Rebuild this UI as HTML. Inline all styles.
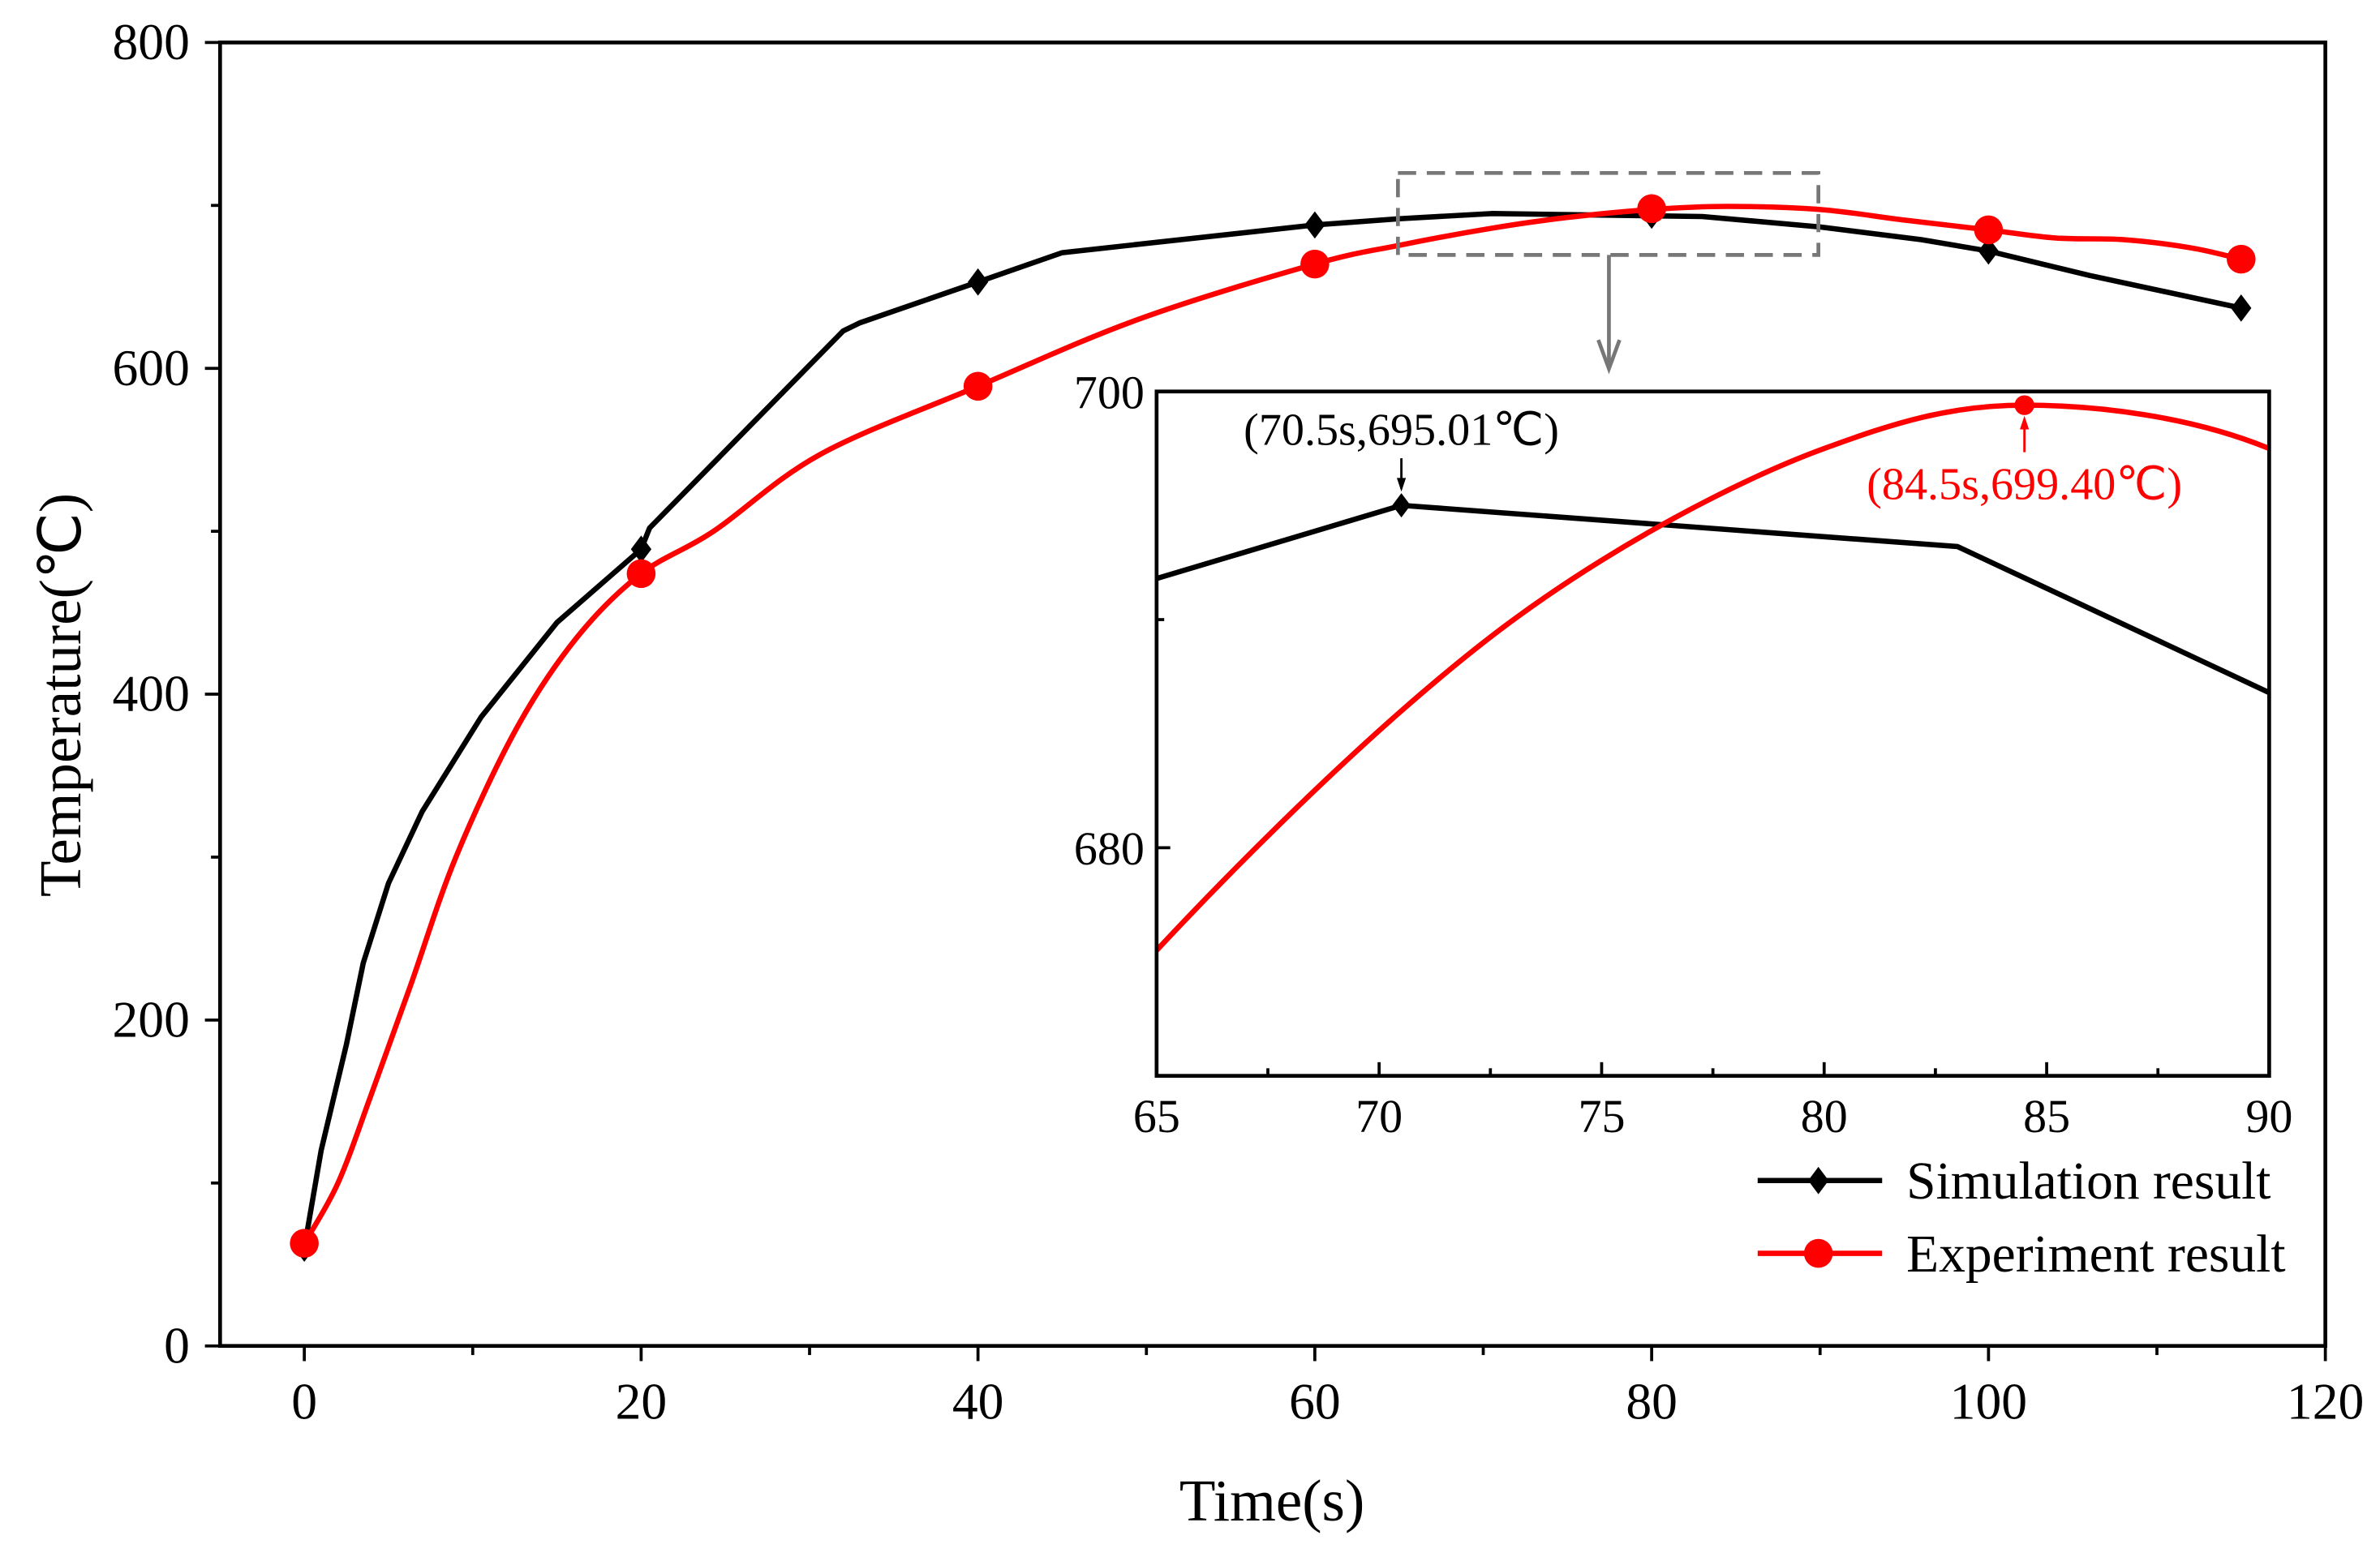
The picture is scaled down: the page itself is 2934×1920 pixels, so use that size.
<!DOCTYPE html>
<html><head><meta charset="utf-8"><style>
html,body{margin:0;padding:0;background:#fff;overflow:hidden;width:2934px;height:1920px;}
svg{display:block;font-family:"Liberation Serif",serif;}
</style></head><body>
<svg id="chart" width="2934" height="1920" viewBox="0 0 1568 1026.1" xmlns="http://www.w3.org/2000/svg"></svg>
<script>
const simT=[0,1,2.5,3.5,5,7,10.5,15,20,20.5,32,33,40,45,60,65,70.5,83,90,96,100,106,115];
const simV=[60,120,185,235,284,328,386,444,489,502,623,628,653,671,688,691.8,695.01,693.2,686.8,679,672,657,637];
const simMarkT=[0,20,40,60,80,100,115];
const simMarkV=[60,489,653,688,694,672,637];
const expT=[0,2,4,6.3,9,12.6,16.2,20,24.3,30.6,40,49.5,60,65,70.5,75,80,84.5,90,95,100,104,108,112,115];
const expV=[63,100,155,221,300,379,435,474,500,547,589,630,664,675.5,686,692.6,697.5,699.4,697.5,691,685,680,679,674,667];
const expMarkT=[0,20,40,60,80,100,115];
const expMarkV=[63,474,589,664,698,685,667];
const xTicks=[0,20,40,60,80,100,120];
const yTicks=[0,200,400,600,800];
const inXTicks=[65,70,75,80,85,90];
const inYTicks=[680,700];

const NS="http://www.w3.org/2000/svg";
const svg=document.getElementById('chart');
function mk(tag,attrs,parent,text){const e=document.createElementNS(NS,tag);for(const k in attrs)e.setAttribute(k,attrs[k]);if(text!==undefined)e.textContent=text;(parent||svg).appendChild(e);return e;}
const L=145,R=1532,T=28,B=887;
const X=t=>L+(t+5)/125*(R-L);
const Y=v=>B-v/800*(B-T);
const iL=762,iR=1495,iT=258,iB=709;
const iX=t=>iL+(t-65)/25*(iR-iL);
const iY=v=>iB-(v-670)/30*(iB-iT);

function smooth(pts){let d=`M${pts[0][0]},${pts[0][1]}`;for(let i=0;i<pts.length-1;i++){const p0=pts[Math.max(0,i-1)],p1=pts[i],p2=pts[i+1],p3=pts[Math.min(pts.length-1,i+2)];d+=` C${p1[0]+(p2[0]-p0[0])/6},${p1[1]+(p2[1]-p0[1])/6} ${p2[0]-(p3[0]-p1[0])/6},${p2[1]-(p3[1]-p1[1])/6} ${p2[0]},${p2[1]}`;}return d;}
function poly(pts){return 'M'+pts.map(p=>p[0]+','+p[1]).join(' L');}
function diamond(x,y,s,parent){return mk('path',{d:`M${x},${y-s} L${x+s*0.75},${y} L${x},${y+s} L${x-s*0.75},${y}Z`,fill:'#000'},parent);}

let e=mk('path',{d:`M${L},${T} L${R},${T} L${R},${B} L${L},${B} Z`,fill:'none',stroke:'#000','stroke-width':2.5});

xTicks.forEach((t,i)=>{mk('line',{x1:X(t),x2:X(t),y1:B,y2:B+10,stroke:'#000','stroke-width':2});
 const lb=mk('text',{x:X(t),y:B+48,'font-size':34,'text-anchor':'middle'},svg,String(t));
 
 if(i<xTicks.length-1)mk('line',{x1:X(t+10),x2:X(t+10),y1:B,y2:B+6,stroke:'#000','stroke-width':2});});
yTicks.forEach((v,i)=>{mk('line',{x1:L-10,x2:L,y1:Y(v),y2:Y(v),stroke:'#000','stroke-width':2});
 const lb=mk('text',{x:L-20,y:Y(v)+11,'font-size':34,'text-anchor':'end'},svg,String(v));
 
 if(i<yTicks.length-1)mk('line',{x1:L-6,x2:L,y1:Y(v+100),y2:Y(v+100),stroke:'#000','stroke-width':2});});
e=mk('text',{x:838,y:1002,'font-size':39,'text-anchor':'middle'},svg,'Time(s)');

e=mk('text',{x:0,y:0,'font-size':39,'text-anchor':'middle',transform:'translate(53,458) rotate(-90)'},svg,'Temperature(℃)');


e=mk('path',{d:poly(simT.map((t,i)=>[X(t),Y(simV[i])])),fill:'none',stroke:'#000','stroke-width':3.5,'stroke-linejoin':'round'});

e=mk('path',{d:smooth(expT.map((t,i)=>[X(t),Y(expV[i])])),fill:'none',stroke:'#f00','stroke-width':3.5});

simMarkT.forEach((t,i)=>{const m=diamond(X(t),Y(simMarkV[i]),9);
 });
expMarkT.forEach((t,i)=>{const m=mk('circle',{cx:X(t),cy:Y(expMarkV[i]),r:9.5,fill:'#f00'});
 });

e=mk('rect',{x:921,y:114,width:277,height:54,fill:'none',stroke:'#777','stroke-width':2.5,'stroke-dasharray':'12,7'});

e=mk('g',{});
mk('line',{x1:1060,x2:1060,y1:168,y2:242,stroke:'#777','stroke-width':2.5},e);
mk('path',{d:'M1053,224 L1060,243 L1067,224',fill:'none',stroke:'#777','stroke-width':2.5},e);

const inset=mk('g',{});
mk('rect',{x:iL,y:iT,width:iR-iL,height:iB-iT,fill:'#fff'},inset);
mk('clipPath',{id:'ic'},inset);
mk('rect',{x:iL,y:iT,width:iR-iL,height:iB-iT},document.getElementById('ic'));
e=mk('path',{d:poly(simT.map((t,i)=>[iX(t),iY(simV[i])])),fill:'none',stroke:'#000','stroke-width':3.5,'clip-path':'url(#ic)'},inset);

e=mk('path',{d:smooth(expT.map((t,i)=>[iX(t),iY(expV[i])])),fill:'none',stroke:'#f00','stroke-width':3.5,'clip-path':'url(#ic)'},inset);

mk('rect',{x:iL,y:iT,width:iR-iL,height:iB-iT,fill:'none',stroke:'#000','stroke-width':2.5},inset);
inXTicks.forEach((t,i)=>{mk('line',{x1:iX(t),x2:iX(t),y1:iB,y2:iB-9,stroke:'#000','stroke-width':2},inset);
 const lb=mk('text',{x:iX(t),y:iB+37,'font-size':31,'text-anchor':'middle'},inset,String(t));
 
 if(i<inXTicks.length-1)mk('line',{x1:iX(t+2.5),x2:iX(t+2.5),y1:iB,y2:iB-5,stroke:'#000','stroke-width':2},inset);});
inYTicks.forEach(v=>{mk('line',{x1:iL,x2:iL+9,y1:iY(v),y2:iY(v),stroke:'#000','stroke-width':2},inset);
 const lb=mk('text',{x:iL-8,y:iY(v)+11,'font-size':31,'text-anchor':'end'},inset,String(v));
 });
mk('line',{x1:iL,x2:iL+5,y1:iY(690),y2:iY(690),stroke:'#000','stroke-width':2},inset);
e=diamond(iX(70.5),iY(695.01),8,inset);
e=mk('circle',{cx:iX(84.5),cy:iY(699.4),r:6.5,fill:'#f00'},inset);
e=mk('text',{x:iX(70.5),y:293,'font-size':30,'text-anchor':'middle'},inset,'(70.5s,695.01℃)');

mk('line',{x1:iX(70.5),x2:iX(70.5),y1:302,y2:322,stroke:'#000','stroke-width':1.5},inset);
mk('path',{d:`M${iX(70.5)-3},315 L${iX(70.5)},324 L${iX(70.5)+3},315Z`,fill:'#000'},inset);
e=mk('text',{x:iX(84.5),y:329,'font-size':30,'text-anchor':'middle',fill:'#f00'},inset,'(84.5s,699.40℃)');

mk('line',{x1:iX(84.5),x2:iX(84.5),y1:298,y2:278,stroke:'#f00','stroke-width':1.5},inset);
mk('path',{d:`M${iX(84.5)-3},283 L${iX(84.5)},274 L${iX(84.5)+3},283Z`,fill:'#f00'},inset);

const lg=mk('g',{});
e=mk('g',{},lg);
mk('line',{x1:1158,x2:1240,y1:778,y2:778,stroke:'#000','stroke-width':3.5},e);
diamond(1198,778,9,e);
mk('text',{x:1256,y:790,'font-size':35},e,'Simulation result');
e=mk('g',{},lg);
mk('line',{x1:1158,x2:1240,y1:826,y2:826,stroke:'#f00','stroke-width':3.5},e);
mk('circle',{cx:1198,cy:826,r:9.5,fill:'#f00'},e);
mk('text',{x:1256,y:838,'font-size':35},e,'Experiment result');
</script>
</body></html>
